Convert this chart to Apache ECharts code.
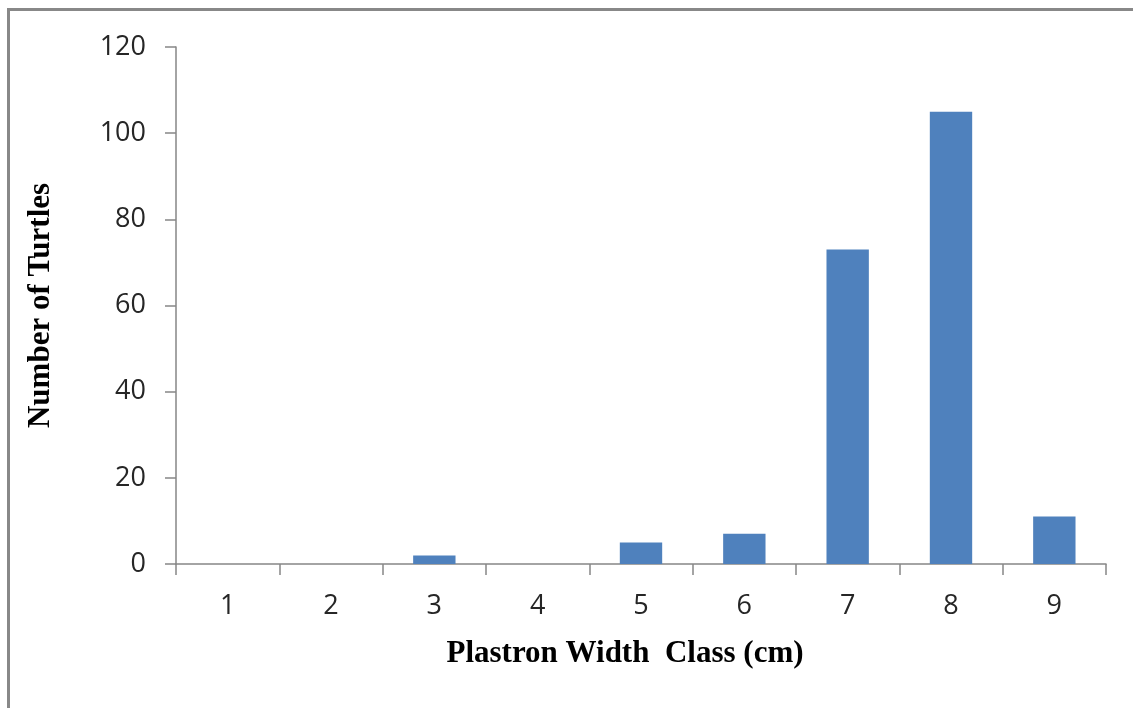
<!DOCTYPE html>
<html>
<head>
<meta charset="utf-8">
<script src="https://cdn.jsdelivr.net/npm/echarts@6/dist/echarts.min.js"></script>
<style>
html,body{margin:0;padding:0;background:#fff;}
#chart{width:1133px;height:708px;}
</style>
</head>
<body>
<div id="chart"></div>
<script>
const categories = ['1','2','3','4','5','6','7','8','9'];
const turtleCounts = [0, 0, 2, 0, 5, 7, 73, 105, 11];
const xAxisTitle = 'Plastron Width  Class (cm)';
const yAxisTitle = 'Number of Turtles';

const chart = echarts.init(document.getElementById('chart'));
const axisColor = '#868686';
const labelFont = { fontFamily: '"Open Sans", sans-serif', fontSize: 27, color: '#262626' };
const titleFont = { fontFamily: '"Liberation Serif", "Times New Roman", serif', fontSize: 31, fontWeight: 'bold', color: '#000' };

chart.setOption({
  animation: false,
  backgroundColor: '#fff',
  grid: { left: 176, right: 27, top: 47, bottom: 144, containLabel: false },
  xAxis: {
    type: 'category',
    data: categories,
    name: xAxisTitle,
    nameLocation: 'middle',
    nameGap: 74,
    nameTextStyle: Object.assign({ padding: [0, 32, 0, 0] }, titleFont),
    axisLine: { show: true, lineStyle: { color: axisColor, width: 1.5 } },
    axisTick: { show: true, length: 11, alignWithLabel: false, lineStyle: { color: axisColor, width: 1.5 } },
    axisLabel: Object.assign({ margin: 29 }, labelFont),
    splitLine: { show: false }
  },
  yAxis: {
    type: 'value',
    min: 0,
    max: 120,
    interval: 20,
    name: yAxisTitle,
    nameLocation: 'middle',
    nameGap: 120,
    nameRotate: 90,
    nameTextStyle: titleFont,
    axisLine: { show: true, lineStyle: { color: axisColor, width: 1.5 } },
    axisTick: { show: true, length: 11, lineStyle: { color: axisColor, width: 1.5 } },
    axisLabel: Object.assign({ margin: 30 }, labelFont),
    splitLine: { show: false }
  },
  series: [{
    type: 'bar',
    data: turtleCounts,
    barWidth: '41%',
    itemStyle: { color: '#4F81BD' }
  }],
  graphic: [
    { type: 'line', shape: { x1: 7, y1: 9.5, x2: 1133, y2: 9.5 }, style: { stroke: '#888', lineWidth: 3 } },
    { type: 'line', shape: { x1: 8.5, y1: 8, x2: 8.5, y2: 708 }, style: { stroke: '#888', lineWidth: 3 } }
  ]
});
</script>
</body>
</html>
